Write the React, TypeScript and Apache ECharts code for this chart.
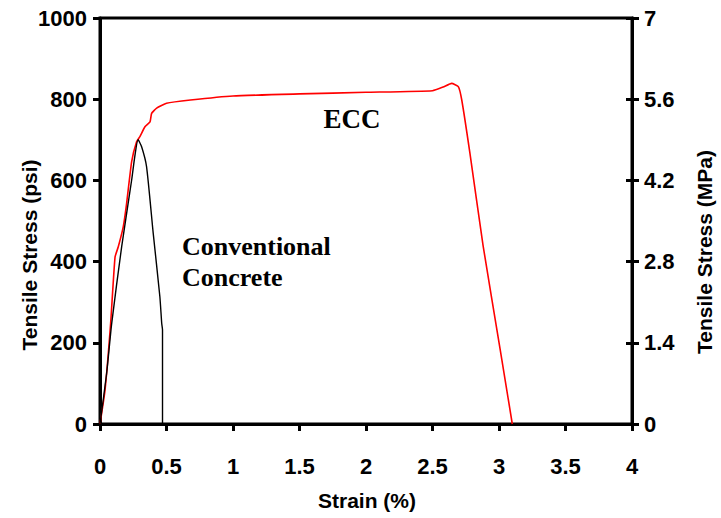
import React, { useEffect, useRef } from "react";
import * as echarts from "echarts";

const xTicks = [0, 0.5, 1, 1.5, 2, 2.5, 3, 3.5, 4];
const psiTicks = [0, 200, 400, 600, 800, 1000];
const mpaTicks = [0, 1.4, 2.8, 4.2, 5.6, 7];

const eccStrain = [0, 0.038, 0.08, 0.113, 0.138, 0.175, 0.2, 0.238, 0.275, 0.3, 0.338, 0.376, 0.388, 0.426, 0.5, 0.68, 1.0, 1.5, 2.0, 2.5, 2.58, 2.644, 2.694, 2.72, 2.78, 2.88, 3.008, 3.1];
const eccStress = [0, 84, 248, 411, 437, 486, 543, 646, 695, 708, 732, 744, 765, 778, 790, 798, 808, 813, 817, 821, 830, 839, 831, 798, 670, 440, 185, 0];

const ccStrain = [0, 0.05, 0.088, 0.163, 0.238, 0.262, 0.286, 0.313, 0.35, 0.4, 0.45, 0.464, 0.47, 0.47];
const ccStress = [0, 125, 248, 437, 601, 660, 700, 683, 634, 470, 314, 248, 232, 0];

const tickFont = {
  color: "#000",
  fontFamily: "Liberation Sans, Arial, sans-serif",
  fontWeight: "bold" as const,
  fontSize: 22,
};

export default function App() {
  const ref = useRef<HTMLDivElement>(null);
  useEffect(() => {
    if (!ref.current) return;
    const chart = echarts.init(ref.current, null, { renderer: "svg" });
    const axisLine = { show: true, lineStyle: { color: "#000", width: 3 } };
    const axisTick = { show: true, length: 7, lineStyle: { color: "#000", width: 3 } };
    chart.setOption({
      animation: false,
      backgroundColor: "#fff",
      grid: {
        left: 100,
        right: 89,
        top: 18,
        bottom: 94,
        show: true,
        borderColor: "#000",
        borderWidth: 3,
      },
      xAxis: {
        type: "value",
        min: xTicks[0],
        max: xTicks[xTicks.length - 1],
        interval: 0.5,
        axisLine,
        axisTick,
        splitLine: { show: false },
        axisLabel: { ...tickFont, margin: 31, formatter: (v: number) => String(v) },
      },
      yAxis: [
        {
          type: "value",
          position: "left",
          min: psiTicks[0],
          max: psiTicks[psiTicks.length - 1],
          interval: 200,
          axisLine,
          axisTick,
          splitLine: { show: false },
          axisLabel: { ...tickFont, margin: 13, formatter: (v: number) => String(v) },
        },
        {
          type: "value",
          position: "right",
          min: mpaTicks[0],
          max: mpaTicks[mpaTicks.length - 1],
          interval: 1.4,
          axisLine,
          axisTick,
          splitLine: { show: false },
          axisLabel: {
            ...tickFont,
            margin: 12,
            formatter: (v: number) => String(+v.toFixed(1)),
          },
        },
        {
          type: "value",
          position: "right",
          min: mpaTicks[0],
          max: mpaTicks[mpaTicks.length - 1],
          interval: 1.4,
          axisLine: { show: false },
          axisTick: { show: true, inside: true, length: 6, lineStyle: { color: "#000", width: 3 } },
          splitLine: { show: false },
          axisLabel: { show: false },
        },
      ],
      series: [
        {
          type: "line",
          name: "ECC",
          data: eccStrain.map((x, i) => [x, eccStress[i]]),
          showSymbol: false,
          smooth: 0.15,
          lineStyle: { color: "#ff0000", width: 1.6 },
          yAxisIndex: 0,
        },
        {
          type: "line",
          name: "Conventional Concrete",
          data: ccStrain.map((x, i) => [x, ccStress[i]]),
          showSymbol: false,
          smooth: 0.2,
          lineStyle: { color: "#000", width: 1.4 },
          yAxisIndex: 0,
        },
      ],
      graphic: [
        {
          type: "text",
          x: 352,
          y: 119,
          style: {
            text: "ECC",
            fill: "#000",
            font: "bold 27px 'Liberation Serif', 'Times New Roman', serif",
            align: "center",
            verticalAlign: "middle",
          },
        },
        {
          type: "text",
          x: 182,
          y: 246,
          style: {
            text: "Conventional",
            fill: "#000",
            font: "bold 26px 'Liberation Serif', 'Times New Roman', serif",
            align: "left",
            verticalAlign: "middle",
          },
        },
        {
          type: "text",
          x: 182,
          y: 277,
          style: {
            text: "Concrete",
            fill: "#000",
            font: "bold 26px 'Liberation Serif', 'Times New Roman', serif",
            align: "left",
            verticalAlign: "middle",
          },
        },
        {
          type: "text",
          x: 29,
          y: 255,
          rotation: Math.PI / 2,
          style: {
            text: "Tensile Stress (psi)",
            fill: "#000",
            font: "bold 21px 'Liberation Sans', Arial, sans-serif",
            align: "center",
            verticalAlign: "middle",
          },
        },
        {
          type: "text",
          x: 704,
          y: 252,
          rotation: Math.PI / 2,
          style: {
            text: "Tensile Stress (MPa)",
            fill: "#000",
            font: "bold 21px 'Liberation Sans', Arial, sans-serif",
            align: "center",
            verticalAlign: "middle",
          },
        },
        {
          type: "text",
          x: 367,
          y: 500,
          style: {
            text: "Strain (%)",
            fill: "#000",
            font: "bold 21px 'Liberation Sans', Arial, sans-serif",
            align: "center",
            verticalAlign: "middle",
          },
        },
      ],
    });
    return () => chart.dispose();
  }, []);
  return (
    <div
      ref={ref}
      style={{ position: "fixed", left: 0, top: 0, width: 721, height: 518 }}
    />
  );
}
